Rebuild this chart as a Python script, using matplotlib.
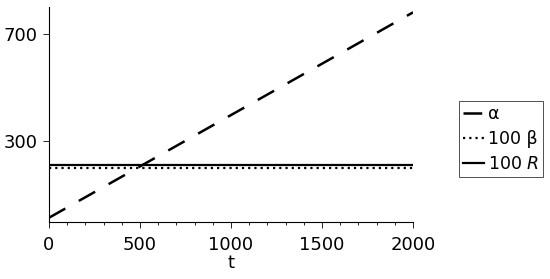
import matplotlib
matplotlib.use("Agg")
import matplotlib.pyplot as plt
import numpy as np
from matplotlib.ticker import MultipleLocator

t = [0, 2000]
alpha = [16, 780]
beta100 = [200, 200]
R100 = [212, 212]

xticks = [0, 500, 1000, 1500, 2000]
yticks = [300, 700]

plt.rcParams['font.family'] = ['DejaVu Sans']
fig = plt.figure(figsize=(5.5, 2.79), dpi=100)
ax = fig.add_axes([0.089, 0.204, 0.662, 0.771])

ax.plot(t, alpha, color='black', lw=1.8, dashes=(7.5, 6.2), label='α')
ax.plot(t, beta100, color='black', lw=1.6, linestyle=(0, (1, 1.8)), label='100 β')
ax.plot(t, R100, color='black', lw=1.6, label=r'100 $R$')

ax.set_xlim(0, 2000)
ax.set_ylim(0, 800)
ax.set_xticks(xticks)
ax.set_yticks(yticks)
ax.xaxis.set_minor_locator(MultipleLocator(100))
ax.tick_params(axis='both', which='major', labelsize=13, length=4, width=0.6)
ax.tick_params(axis='x', which='major', pad=6)
ax.tick_params(axis='y', which='major', pad=4)
ax.tick_params(axis='both', which='minor', length=2, width=0.6)
ax.set_xlabel('t', fontsize=13, labelpad=0)
for s in ['top', 'right']:
    ax.spines[s].set_visible(False)
for s in ['left', 'bottom']:
    ax.spines[s].set_linewidth(0.8)

leg = ax.legend(loc='center left', bbox_to_anchor=(1.126, 0.386), fontsize=12.5,
                handlelength=1.2, handletextpad=0.2, frameon=True, fancybox=False,
                borderpad=0.25, labelspacing=0.4, borderaxespad=0)
leg.get_frame().set_edgecolor('black')
leg.get_frame().set_linewidth(0.6)

fig.savefig('out.png', dpi=100)
